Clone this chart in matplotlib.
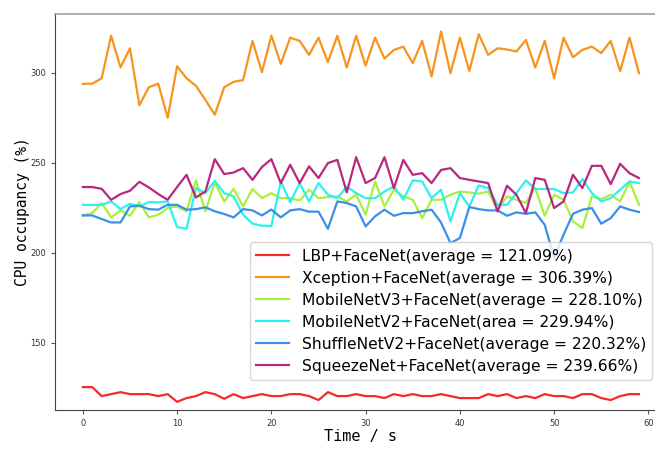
import numpy as np
import matplotlib
matplotlib.use("Agg")
import matplotlib.pyplot as plt
from matplotlib.ticker import MultipleLocator

# temps (s)
t = np.arange(60)

lbp = [125.2, 125.2, 120.2, 121.3, 122.4, 121.3, 121.3, 121.3, 120.2, 121.3,
       117.0, 119.1, 120.2, 122.4, 121.3, 118.7, 121.3, 119.1, 120.2, 121.3,
       120.2, 120.2, 121.3, 121.3, 120.2, 118.0, 122.4, 120.2, 120.2, 121.3,
       120.2, 120.2, 119.1, 121.3, 120.2, 121.3, 120.2, 120.2, 121.3, 120.2,
       119.1, 119.1, 119.1, 121.3, 120.2, 121.3, 119.1, 120.2, 119.1, 121.3,
       120.2, 120.2, 119.1, 121.3, 121.3, 119.1, 118.0, 120.2, 121.3, 121.3]

xception = [293.9, 294.0, 297.0, 320.7, 303.0, 313.7, 282.0, 292.0, 294.0, 275.0,
            303.7, 297.0, 292.8, 285.0, 276.7, 292.0, 295.0, 296.0, 317.8, 300.4,
            320.7, 305.0, 319.6, 317.8, 310.0, 319.6, 306.0, 320.7, 303.0, 320.7,
            304.0, 319.6, 308.0, 312.8, 314.6, 305.4, 317.8, 298.0, 323.0, 299.8,
            319.6, 301.0, 321.5, 310.0, 313.7, 313.0, 311.9, 318.3, 303.0, 317.8,
            297.0, 319.6, 308.7, 312.8, 314.6, 311.0, 317.8, 301.0, 319.6, 299.8]

mobilev3 = [220.7, 222.0, 227.6, 219.6, 223.5, 220.5, 228.1, 219.6, 221.1, 224.8,
            225.7, 223.0, 240.2, 223.0, 239.1, 228.5, 235.5, 225.7, 235.4, 230.3,
            233.1, 230.3, 230.3, 229.0, 235.0, 230.3, 230.9, 231.3, 228.5, 232.2,
            221.1, 239.6, 225.7, 235.0, 231.3, 229.4, 219.2, 229.4, 229.4, 232.2,
            234.0, 233.5, 232.8, 234.0, 223.9, 231.3, 229.4, 227.6, 235.9, 220.5,
            232.2, 229.4, 217.4, 213.7, 231.3, 229.8, 232.2, 228.5, 239.6, 226.6]

mobilev2 = [226.6, 226.6, 226.6, 228.5, 224.2, 227.2, 225.7, 228.1, 228.0, 228.5,
            214.2, 213.3, 235.9, 233.1, 240.0, 233.1, 231.3, 221.1, 216.1, 215.0,
            214.8, 239.6, 228.0, 238.7, 228.5, 238.7, 232.2, 230.3, 236.8, 233.1,
            230.3, 230.3, 234.0, 236.8, 229.4, 240.2, 239.6, 230.3, 235.0, 217.4,
            233.1, 225.7, 237.4, 235.9, 226.6, 226.6, 233.1, 240.2, 235.4, 235.4,
            235.4, 233.1, 233.5, 240.9, 233.1, 228.5, 230.3, 235.0, 239.6, 238.7]

shufflev2 = [220.7, 220.7, 218.7, 216.8, 216.8, 225.7, 226.1, 224.2, 223.9, 226.6,
             226.6, 223.9, 224.2, 225.2, 223.0, 221.5, 219.6, 224.2, 223.5, 220.7,
             224.0, 219.6, 223.5, 224.2, 222.8, 222.8, 213.3, 228.5, 227.6, 225.7,
             214.6, 220.2, 223.9, 220.5, 222.0, 222.0, 223.0, 223.9, 216.8, 205.3,
             208.1, 225.4, 224.2, 223.5, 223.5, 220.5, 222.4, 221.6, 222.4, 215.5,
             197.0, 210.0, 221.6, 223.9, 224.8, 216.1, 219.2, 225.7, 223.9, 222.6]

squeeze = [236.5, 236.5, 235.5, 229.4, 232.6, 234.4, 239.4, 236.3, 232.6, 229.4,
           236.5, 243.3, 230.7, 234.0, 252.0, 243.7, 244.6, 247.0, 240.5, 247.6,
           252.0, 238.7, 248.9, 238.7, 248.0, 241.5, 249.8, 251.6, 233.5, 253.1,
           238.7, 241.5, 253.1, 235.9, 251.6, 243.3, 244.2, 238.7, 246.0, 247.0,
           241.5, 240.5, 239.6, 238.7, 222.9, 237.2, 232.2, 222.0, 241.5, 240.5,
           224.8, 228.5, 243.3, 235.9, 248.3, 248.3, 238.1, 249.4, 244.2, 241.5]

labels = ["LBP+FaceNet(average = 121.09%)",
          "Xception+FaceNet(average = 306.39%)",
          "MobileNetV3+FaceNet(average = 228.10%)",
          "MobileNetV2+FaceNet(area = 229.94%)",
          "ShuffleNetV2+FaceNet(average = 220.32%)",
          "SqueezeNet+FaceNet(average = 239.66%)"]
couleurs = ["#f52a2a", "#f7941d", "#a8f03c", "#2ff0f0", "#3c8fe6", "#b8287e"]
series = [lbp, xception, mobilev3, mobilev2, shufflev2, squeeze]

fig = plt.figure(figsize=(6.55, 4.49), dpi=100)
# l'axe depasse a droite, comme sur l'image d'origine (recadree)
ax = fig.add_axes([0.084, 0.087, 0.934, 0.882])

for y, lab, c in zip(series, labels, couleurs):
    ax.plot(t, y, color=c, lw=1.6, label=lab)

ax.set_ylim(112.5, 332.8)
ax.yaxis.set_major_locator(MultipleLocator(50))

ax.tick_params(labelsize=6, length=3, color="#555555", labelcolor="#333333")
for s in ["left", "bottom"]:
    ax.spines[s].set_color("#444444")
ax.spines["top"].set_color("#aaaaaa")
ax.spines["top"].set_linewidth(1.3)

ax.set_xlabel("Time / s", family="DejaVu Sans Mono", fontsize=11, labelpad=1)
ax.set_ylabel("CPU occupancy (%)", family="DejaVu Sans Mono", fontsize=10.5, labelpad=0)

ax.legend(loc="upper left", bbox_to_anchor=(0.319, 0.423), borderaxespad=0,
          fontsize=11.2, handlelength=2.1, labelspacing=0.45, framealpha=0.8,
          fancybox=True, edgecolor="#cccccc")

fig.savefig("out.png", dpi=100)
